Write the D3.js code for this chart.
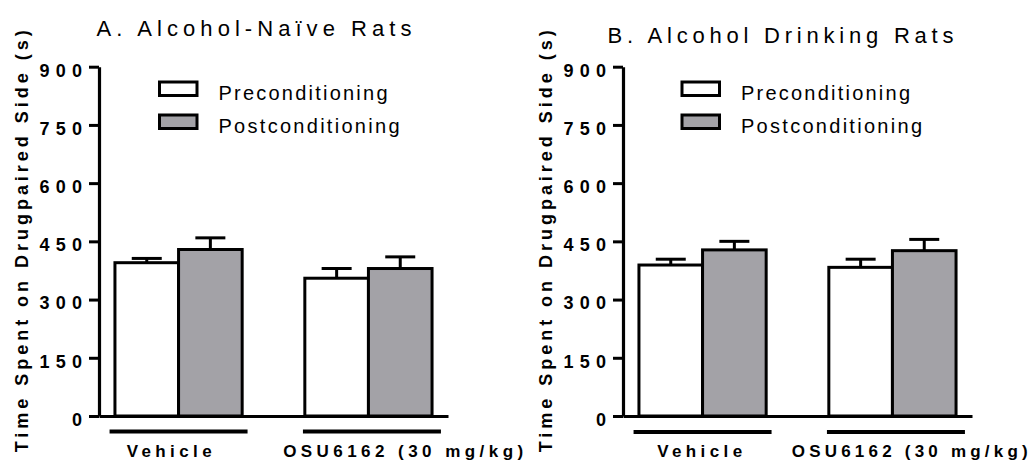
<!DOCTYPE html>
<html>
<head>
<meta charset="utf-8">
<script src="https://cdn.jsdelivr.net/npm/d3@7"></script>
<style>
  html, body { margin: 0; padding: 0; background: #fff; }
  svg { display: block; }
  text { font-family: "Liberation Sans", Arial, sans-serif; fill: #000; }
</style>
</head>
<body>
<svg id="chart" width="1031" height="462"></svg>
<script>
// ---------------- data ----------------
const categories = ["Vehicle", "OSU6162 (30 mg/kg)"];
const seriesNames = ["Preconditioning", "Postconditioning"];
const panelTitles = ["A. Alcohol-Naïve Rats", "B. Alcohol Drinking Rats"];
const yAxisTitle = "Time Spent on Drugpaired Side (s)";
const yTicks = [0, 150, 300, 450, 600, 750, 900];

// Panel A: alcohol-naive rats (mean, SEM)
const naivePre = [395, 355];
const naivePreSem = [11, 25];
const naivePost = [429, 380];
const naivePostSem = [30, 30];
// Panel B: alcohol drinking rats (mean, SEM)
const drinkPre = [389, 383];
const drinkPreSem = [15, 21];
const drinkPost = [428, 426];
const drinkPostSem = [22, 29];

// ---------------- layout / style ----------------
const fills = ["#ffffff", "#a3a2a7"];
const yTop = 66.7, yBottom = 416, plotW = 349;
const layout = [
  { axisX: 99,  titleX: 96.5, titleY: 36, titleLen: 315,
    legendX: 159.5, labelShift: [-9.4, 34.7], labelLen: [85, 240],
    lineShift: [0, 3.5], lineY: 431.5 },
  { axisX: 623, titleX: 607.5, titleY: 42.7, titleLen: 346,
    legendX: 682, labelShift: [-2.9, 17.3], labelLen: [85, 236],
    lineShift: [0, 3.5], lineY: 432 }
];
const panelData = [
  { pre: naivePre, preSem: naivePreSem, post: naivePost, postSem: naivePostSem },
  { pre: drinkPre, preSem: drinkPreSem, post: drinkPost, postSem: drinkPostSem }
];

const svg = d3.select("#chart");
const y = d3.scaleLinear().domain([0, 900]).range([yBottom, yTop]);
const x0 = d3.scaleBand().domain(categories).range([0, plotW])
  .paddingInner(0.33).paddingOuter(0.084);
const x1 = d3.scaleBand().domain(seriesNames).range([0, x0.bandwidth()]).padding(0);

panelData.forEach((pd, pi) => {
  const L = layout[pi];
  const g = svg.append("g");

  // title
  g.append("text")
    .attr("x", L.titleX).attr("y", L.titleY)
    .attr("font-size", 22)
    .attr("textLength", L.titleLen).attr("lengthAdjust", "spacing")
    .text(panelTitles[pi]);

  // y-axis title
  g.append("text")
    .attr("transform", `translate(${L.axisX - 71},${(yTop + yBottom) / 2}) rotate(-90)`)
    .attr("text-anchor", "middle")
    .attr("font-size", 18).attr("font-weight", "bold")
    .attr("textLength", 422).attr("lengthAdjust", "spacing")
    .text(yAxisTitle);

  const plot = g.append("g").attr("transform", `translate(${L.axisX},0)`);

  const rows = categories.map((c, i) => [
    { cat: c, s: seriesNames[0], v: pd.pre[i], e: pd.preSem[i], k: 0 },
    { cat: c, s: seriesNames[1], v: pd.post[i], e: pd.postSem[i], k: 1 }
  ]).flat();

  // error bars (upward)
  const eb = plot.append("g").attr("stroke", "#000").attr("stroke-width", 3);
  rows.forEach(d => {
    const cx = x0(d.cat) + x1(d.s) + x1.bandwidth() / 2;
    eb.append("line").attr("x1", cx).attr("x2", cx)
      .attr("y1", y(d.v)).attr("y2", y(d.v + d.e));
    eb.append("line").attr("x1", cx - 15).attr("x2", cx + 15)
      .attr("y1", y(d.v + d.e)).attr("y2", y(d.v + d.e));
  });

  // bars
  plot.append("g").selectAll("rect").data(rows).join("rect")
    .attr("x", d => x0(d.cat) + x1(d.s))
    .attr("width", x1.bandwidth())
    .attr("y", d => y(d.v))
    .attr("height", d => y(0) - y(d.v))
    .attr("fill", d => fills[d.k])
    .attr("stroke", "#000").attr("stroke-width", 3);

  // y axis
  const ya = plot.append("g")
    .call(d3.axisLeft(y).tickValues(yTicks).tickSize(10).tickSizeOuter(0).tickPadding(0));
  ya.select(".domain").attr("stroke-width", 3.2).attr("stroke", "#000");
  ya.selectAll(".tick line").attr("stroke-width", 3).attr("stroke", "#000");
  ya.selectAll(".tick text")
    .attr("x", -17).attr("dy", "0.52em")
    .attr("font-size", 18).attr("font-weight", "bold")
    .attr("font-family", "Liberation Sans, Arial, sans-serif")
    .attr("fill", "#000")
    .each(function (d) {
      const s = String(d);
      if (s.length > 1) {
        d3.select(this).attr("textLength", 42.5).attr("lengthAdjust", "spacing");
      }
    });

  // x axis baseline
  const xa = plot.append("g").attr("transform", `translate(0,${y(0)})`)
    .call(d3.axisBottom(x0).tickSize(0).tickSizeOuter(0).tickFormat(""));
  xa.selectAll(".tick").remove();
  xa.select(".domain").attr("stroke-width", 3.2).attr("stroke", "#000");

  // group lines and labels
  categories.forEach((c, i) => {
    const cx = x0(c) + x0.bandwidth() / 2;
    plot.append("line")
      .attr("x1", cx - 69 + L.lineShift[i]).attr("x2", cx + 69 + L.lineShift[i])
      .attr("y1", L.lineY).attr("y2", L.lineY)
      .attr("stroke", "#000").attr("stroke-width", 4);
    plot.append("text")
      .attr("x", cx + L.labelShift[i]).attr("y", 457)
      .attr("text-anchor", "middle")
      .attr("font-size", 17).attr("font-weight", "bold")
      .attr("textLength", L.labelLen[i]).attr("lengthAdjust", "spacing")
      .text(c);
  });

  // legend
  const lg = g.append("g");
  seriesNames.forEach((s, k) => {
    const ly = 82 + k * 33;
    lg.append("rect")
      .attr("x", L.legendX).attr("y", ly)
      .attr("width", 37.5).attr("height", 13.5)
      .attr("fill", fills[k]).attr("stroke", "#000").attr("stroke-width", 3);
    lg.append("text")
      .attr("x", L.legendX + 59).attr("y", ly + 17.5)
      .attr("font-size", 20)
      .attr("textLength", k === 0 ? 169 : 181).attr("lengthAdjust", "spacing")
      .text(s);
  });
});
</script>
</body>
</html>
